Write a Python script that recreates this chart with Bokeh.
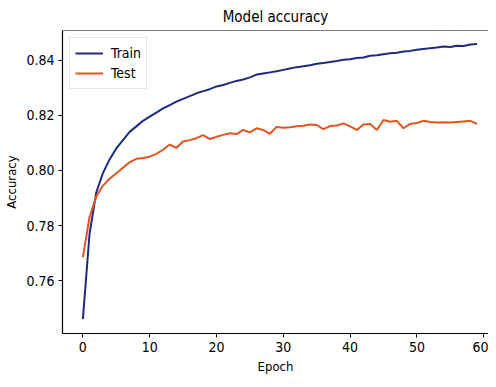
from bokeh.plotting import figure
from bokeh.models import FixedTicker, PrintfTickFormatter, Span, Legend, LegendItem
from bokeh.embed import file_html
from bokeh.resources import INLINE

epochs = list(range(60))
train_acc = [0.746, 0.777, 0.792, 0.799, 0.804, 0.808, 0.811, 0.814, 0.816, 0.818,
             0.8195, 0.821, 0.8225, 0.8237, 0.825, 0.826, 0.827, 0.828, 0.8288, 0.8295,
             0.8305, 0.831, 0.8318, 0.8325, 0.833, 0.8338, 0.8348, 0.8352, 0.8356, 0.836,
             0.8365, 0.837, 0.8375, 0.8378, 0.8382, 0.8387, 0.839, 0.8394, 0.8397, 0.8402,
             0.8404, 0.8408, 0.841, 0.8416, 0.8418, 0.8422, 0.8425, 0.8427, 0.8432, 0.8434,
             0.8438, 0.8441, 0.8444, 0.8446, 0.845, 0.8448, 0.8453, 0.8452, 0.8457, 0.8459]
test_acc = [0.7685, 0.783, 0.7905, 0.7945, 0.797, 0.799, 0.801, 0.803, 0.8042, 0.8045,
            0.805, 0.806, 0.8075, 0.8094, 0.8082, 0.8105, 0.811, 0.8117, 0.8128, 0.8114,
            0.8122, 0.8129, 0.8135, 0.8132, 0.8147, 0.8138, 0.8153, 0.8147, 0.8133, 0.8158,
            0.8155, 0.8157, 0.816, 0.8162, 0.8167, 0.8165, 0.815, 0.8161, 0.8163, 0.8171,
            0.816, 0.8147, 0.8167, 0.8169, 0.8147, 0.8183, 0.8177, 0.818, 0.8153, 0.8169,
            0.8172, 0.818, 0.8176, 0.8174, 0.8175, 0.8174, 0.8176, 0.8178, 0.818, 0.8169]
x_ticks = [0, 10, 20, 30, 40, 50, 60]
y_ticks = [0.76, 0.78, 0.80, 0.82, 0.84]
series_names = ["Train", "Test"]
series_colors = ["#1c2b82", "#e5531f"]

FONT = "DejaVu Sans Condensed, DejaVu Sans, sans-serif"

p = figure(width=488, height=379, output_backend="svg", toolbar_location=None,
           x_range=(-3.05, 60.72), y_range=(0.7408, 0.8508),
           min_border_left=62, min_border_right=0, min_border_top=24, min_border_bottom=46,
           title="Model accuracy")
p.title.align = "center"
p.title.text_font = FONT
p.title.text_font_size = "15px"
p.title.text_font_style = "normal"
p.title.text_color = "black"
p.outline_line_color = None
p.grid.visible = False

r1 = p.line(epochs, train_acc, line_color=series_colors[0], line_width=2)
r2 = p.line(epochs, test_acc, line_color=series_colors[1], line_width=2)

top = Span(location=0.8508, dimension="width", line_color="black", line_width=1.2)
p.add_layout(top)

for ax in (p.xaxis[0], p.yaxis[0]):
    ax.major_tick_out = 4
    ax.major_tick_in = 0
    ax.minor_tick_line_color = None
    ax.axis_line_color = "black"
    ax.axis_line_width = 1.2
    ax.major_tick_line_color = "black"
    ax.major_label_standoff = 4
    ax.major_label_text_font = FONT
    ax.major_label_text_font_size = "14px"
    ax.major_label_text_color = "black"
    ax.axis_label_text_font = FONT
    ax.axis_label_text_font_size = "13px"
    ax.axis_label_text_font_style = "normal"
    ax.axis_label_text_color = "black"

p.xaxis.ticker = FixedTicker(ticks=x_ticks)
p.yaxis.ticker = FixedTicker(ticks=y_ticks)
p.yaxis.formatter = PrintfTickFormatter(format="%.2f")
p.xaxis.axis_label = "Epoch"
p.yaxis.axis_label = "Accuracy"
p.xaxis.axis_label_standoff = 4
p.yaxis.axis_label_standoff = 4

legend = Legend(items=[LegendItem(label=series_names[0], renderers=[r1]),
                       LegendItem(label=series_names[1], renderers=[r2])],
                location="top_left")
legend.label_text_font = FONT
legend.label_text_font_size = "14px"
legend.label_text_color = "black"
legend.border_line_color = "#cccccc"
legend.glyph_width = 28
legend.label_standoff = 8
legend.spacing = 0
legend.padding = 5
legend.margin = 7
p.add_layout(legend)

open("out.html", "w").write(file_html(p, INLINE))
